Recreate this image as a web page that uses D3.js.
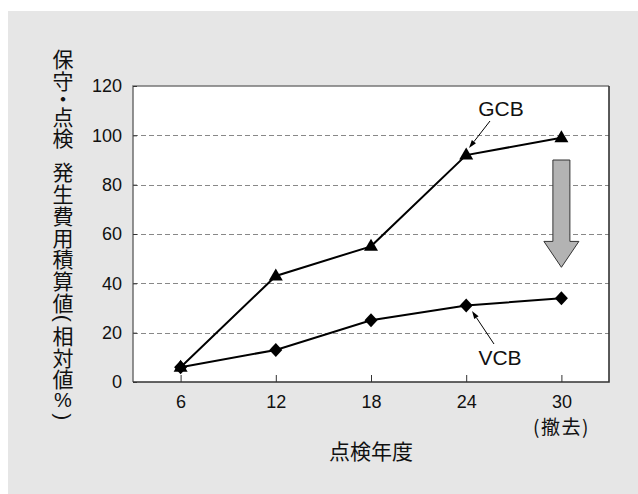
<!DOCTYPE html>
<html>
<head>
<meta charset="utf-8">
<script src="https://cdn.jsdelivr.net/npm/d3@7"></script>
<style>
  body { margin: 0; background: #fff; }
  svg text { font-family: "Liberation Sans", Arial, sans-serif; }
  .cjk { font-family: "Noto Sans CJK JP", sans-serif; }
</style>
</head>
<body>
<div id="chart"></div>
<script>
// 点検年度ごとの積算値 (相対値 %)
var years = [6, 12, 18, 24, 30];
var gcb = [6, 43, 55, 92, 99];
var vcb = [6, 13, 25, 31, 34];
var yTicks = [0, 20, 40, 60, 80, 100, 120];
var gridTicks = [20, 40, 60, 80, 100];
var yLabel = "保守・点検 発生費用積算値(相対値%)";
var xLabel = "点検年度";
var lastLabel = "(撤去)";

var dim = {
    width: 638,
    height: 494,
    left: 133,
    top: 86,
    right: 609,
    bottom: 382
};

var svg = d3.select("#chart").append("svg")
    .attr("width", dim.width)
    .attr("height", dim.height);

svg.append("rect")
    .attr("x", 8).attr("y", 11)
    .attr("width", dim.width - 8).attr("height", dim.height - 11)
    .attr("fill", "#e6e6e6");

var x = d3.scaleLinear().domain([3, 33]).range([dim.left, dim.right]);
var y = d3.scaleLinear().domain([0, 120]).range([dim.bottom, dim.top]);

svg.append("rect")
    .attr("x", dim.left).attr("y", dim.top)
    .attr("width", dim.right - dim.left).attr("height", dim.bottom - dim.top)
    .attr("fill", "#fff");

// grid
svg.append("g").selectAll("line")
    .data(gridTicks)
    .join("line")
    .attr("x1", dim.left).attr("x2", dim.right)
    .attr("y1", d => Math.round(y(d)) + 0.5).attr("y2", d => Math.round(y(d)) + 0.5)
    .attr("stroke", "#888")
    .attr("stroke-dasharray", "5,3");

// frame: top/left lighter, right/bottom darker
svg.append("path")
    .attr("d", `M${dim.left},${dim.bottom}V${dim.top}H${dim.right}`)
    .attr("fill", "none").attr("stroke", "#777").attr("stroke-width", 1.6);
svg.append("path")
    .attr("d", `M${dim.left},${dim.bottom}H${dim.right}V${dim.top}`)
    .attr("fill", "none").attr("stroke", "#333").attr("stroke-width", 1.6);

var yAxis = svg.append("g")
    .attr("transform", `translate(${dim.left},0)`)
    .call(d3.axisLeft(y).tickValues(yTicks).tickSize(-4).tickSizeOuter(0).tickPadding(11));
yAxis.select(".domain").remove();
yAxis.selectAll(".tick line").attr("stroke", "#333");
yAxis.selectAll("text").attr("font-size", 18).attr("fill", "#111")
    .style("font-family", "'Liberation Sans', Arial, sans-serif");

var xAxis = svg.append("g")
    .attr("transform", `translate(0,${dim.bottom})`)
    .call(d3.axisBottom(x).tickValues(years).tickSize(-7).tickSizeOuter(0).tickPadding(13));
xAxis.select(".domain").remove();
xAxis.selectAll(".tick line").attr("stroke", "#333");
xAxis.selectAll("text").attr("font-size", 18).attr("fill", "#111")
    .style("font-family", "'Liberation Sans', Arial, sans-serif");

svg.append("text")
    .attr("class", "cjk")
    .attr("x", x(30)).attr("y", 434)
    .attr("text-anchor", "middle")
    .attr("font-size", 19).attr("fill", "#111")
    .attr("letter-spacing", 1.5)
    .text(lastLabel);

svg.append("text")
    .attr("class", "cjk")
    .attr("x", x(18)).attr("y", 459)
    .attr("text-anchor", "middle")
    .attr("font-size", 21).attr("fill", "#111")
    .text(xLabel);

// vertical y label, one glyph at a time
var advance = ch => ch === "・" ? 14 : ch === " " ? 12 : (ch === "(" || ch === ")") ? 11 : ch === "%" ? 22 : 21.8;
var yPos = 47, yChars = [];
Array.from(yLabel).forEach(ch => {
    var a = advance(ch);
    yChars.push({ch: ch, cy: yPos + a / 2});
    yPos += a;
});
var isParen = ch => ch === "(" || ch === ")";
svg.append("g").selectAll("text")
    .data(yChars.filter(d => d.ch !== " "))
    .join("text")
    .attr("class", d => (d.ch === "%" || isParen(d.ch)) ? null : "cjk")
    .attr("text-anchor", "middle")
    .attr("dominant-baseline", "central")
    .attr("font-size", d => d.ch === "%" ? 20 : 21)
    .attr("fill", "#111")
    .attr("transform", d => `translate(63,${d.cy})` + (isParen(d.ch) ? " rotate(90)" : ""))
    .text(d => d.ch);

// series
var line = d3.line().x(d => x(d[0])).y(d => y(d[1]));
var gcbPts = years.map((d, i) => [d, gcb[i]]);
var vcbPts = years.map((d, i) => [d, vcb[i]]);

svg.append("path").attr("d", line(gcbPts))
    .attr("fill", "none").attr("stroke", "#000").attr("stroke-width", 2);
svg.append("path").attr("d", line(vcbPts))
    .attr("fill", "none").attr("stroke", "#000").attr("stroke-width", 2);

svg.append("g").selectAll("path")
    .data(vcbPts)
    .join("path")
    .attr("d", "M0,-7L6.5,0L0,7L-6.5,0Z")
    .attr("transform", d => `translate(${x(d[0])},${y(d[1])})`)
    .attr("fill", "#000");

svg.append("g").selectAll("path")
    .data(gcbPts)
    .join("path")
    .attr("d", "M0,-7.5L7,4.5L-7,4.5Z")
    .attr("transform", d => `translate(${x(d[0])},${y(d[1])})`)
    .attr("fill", "#000");

// callouts with a small head drawn at the pointing end
function callout(x1, y1, x2, y2) {
    var ang = Math.atan2(y2 - y1, x2 - x1);
    var len = 8, half = 2.6;
    var bx = x2 - len * Math.cos(ang), by = y2 - len * Math.sin(ang);
    var px = -Math.sin(ang) * half, py = Math.cos(ang) * half;
    svg.append("line")
        .attr("x1", x1).attr("y1", y1).attr("x2", bx).attr("y2", by)
        .attr("stroke", "#000").attr("stroke-width", 1);
    svg.append("path")
        .attr("d", `M${x2},${y2}L${bx + px},${by + py}L${bx - px},${by - py}Z`)
        .attr("fill", "#000");
}

callout(490, 121, 469, 148);
svg.append("text")
    .attr("x", 501).attr("y", 116)
    .attr("text-anchor", "middle")
    .attr("font-size", 21).attr("fill", "#111")
    .text("GCB");

callout(494, 344, 472, 311);
svg.append("text")
    .attr("x", 500).attr("y", 365)
    .attr("text-anchor", "middle")
    .attr("font-size", 21).attr("fill", "#111")
    .text("VCB");

// big downward arrow at the last year
var ax = x(30);
svg.append("path")
    .attr("d", `M${ax - 8.5},${y(90)}H${ax + 8.5}V${y(57)}H${ax + 17.5}L${ax},${y(46.5)}L${ax - 17.5},${y(57)}H${ax - 8.5}Z`)
    .attr("fill", "#b3b3b3")
    .attr("stroke", "#333")
    .attr("stroke-width", 1);
</script>
</body>
</html>
